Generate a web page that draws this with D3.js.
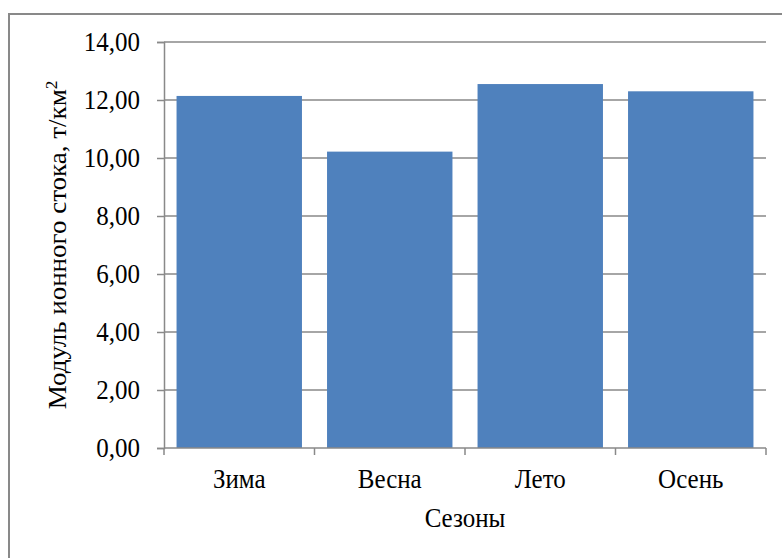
<!DOCTYPE html>
<html>
<head>
<meta charset="utf-8">
<script src="https://cdn.jsdelivr.net/npm/d3@7/dist/d3.min.js"></script>
<style>
  html, body { margin: 0; padding: 0; background: #fff; }
  svg { display: block; }
  text { font-family: "Liberation Serif", "Times New Roman", serif; fill: #000; }
</style>
</head>
<body>
<svg id="chart" width="782" height="558"></svg>
<script>
// Seasonal ionic runoff modulus
const seasons = ["Зима", "Весна", "Лето", "Осень"];
const runoff = [12.14, 10.22, 12.55, 12.30];
const yTicks = [0, 2, 4, 6, 8, 10, 12, 14];
const yTitle = "Модуль ионного стока, т/км";
const xTitle = "Сезоны";

const W = 782, H = 558;
const plot = { left: 164, right: 766, top: 42, bottom: 448 };
const gridColor = "#898989";
const barColor = "#4F81BD";
const fontSize = 25;
const stretch = 1.08; // glyphs are slightly taller than wide

const svg = d3.select("#chart");

// chart frame
svg.append("rect")
  .attr("x", 9).attr("y", 14)
  .attr("width", W).attr("height", H)
  .attr("fill", "#fff")
  .attr("stroke", gridColor)
  .attr("stroke-width", 2);

const x = d3.scaleBand()
  .domain(seasons)
  .range([plot.left, plot.right])
  .paddingInner(1 / 6)
  .paddingOuter(1 / 12);

const y = d3.scaleLinear()
  .domain([0, 14])
  .range([plot.bottom, plot.top]);

const fmt = v => d3.format(".2f")(v).replace(".", ",");

// horizontal gridlines
svg.append("g")
  .selectAll("line")
  .data(yTicks.filter(v => v > 0))
  .join("line")
  .attr("x1", plot.left).attr("x2", plot.right)
  .attr("y1", d => y(d)).attr("y2", d => y(d))
  .attr("stroke", gridColor)
  .attr("stroke-width", 1.5);

// bars
svg.append("g")
  .selectAll("rect")
  .data(seasons)
  .join("rect")
  .attr("x", d => x(d))
  .attr("width", x.bandwidth())
  .attr("y", (d, i) => y(runoff[i]))
  .attr("height", (d, i) => y(0) - y(runoff[i]))
  .attr("fill", barColor);

// y axis
const yAxis = svg.append("g")
  .attr("transform", `translate(${plot.left},0)`)
  .call(d3.axisLeft(y).tickValues(yTicks).tickFormat(fmt).tickSize(7).tickPadding(17));
yAxis.select(".domain").attr("stroke", gridColor).attr("stroke-width", 1.5);
yAxis.selectAll(".tick line").attr("stroke", gridColor).attr("stroke-width", 1.5);
yAxis.selectAll(".tick text")
  .attr("font-family", "Liberation Serif")
  .attr("font-size", fontSize)
  .attr("fill", "#000")
  .attr("transform", `scale(1,${stretch})`);

// x axis: baseline with ticks at the category boundaries
const xAxisG = svg.append("g");
xAxisG.append("line")
  .attr("x1", plot.left).attr("x2", plot.right)
  .attr("y1", plot.bottom).attr("y2", plot.bottom)
  .attr("stroke", gridColor).attr("stroke-width", 1.5);
const step = x.step();
const bounds = d3.range(seasons.length + 1).map(i => plot.left + i * step);
xAxisG.selectAll("line.tk")
  .data(bounds)
  .join("line")
  .attr("class", "tk")
  .attr("x1", d => d).attr("x2", d => d)
  .attr("y1", plot.bottom).attr("y2", plot.bottom + 7)
  .attr("stroke", gridColor).attr("stroke-width", 1.5);
xAxisG.selectAll("text")
  .data(seasons)
  .join("text")
  .attr("transform", d => `translate(${x(d) + x.bandwidth() / 2},488) scale(1,${stretch})`)
  .attr("text-anchor", "middle")
  .attr("font-size", fontSize)
  .text(d => d);

// axis titles
svg.append("text")
  .attr("transform", `translate(${(plot.left + plot.right) / 2},527) scale(1,${stretch})`)
  .attr("text-anchor", "middle")
  .attr("font-size", fontSize)
  .text(xTitle);

const yt = svg.append("text")
  .attr("transform", `translate(66,${(plot.top + plot.bottom) / 2}) rotate(-90) scale(${stretch},1)`)
  .attr("text-anchor", "middle")
  .attr("font-size", fontSize);
yt.append("tspan").text(yTitle);
yt.append("tspan").attr("dy", -9).attr("font-size", 16).text("2");
</script>
</body>
</html>
